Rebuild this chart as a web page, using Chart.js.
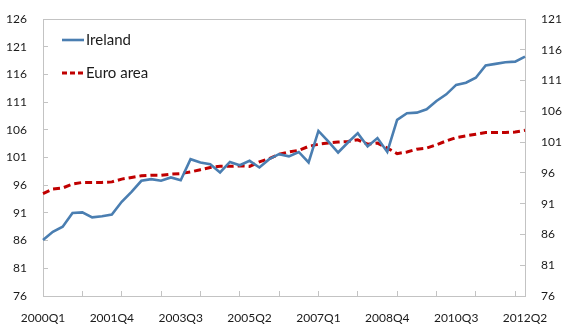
<!DOCTYPE html>
<html lang="en">
<head>
<meta charset="UTF-8">
<title>Ireland and Euro area</title>
<script src="https://cdn.jsdelivr.net/npm/chart.js"></script>
<style>
  body { margin: 0; background: #fff; }
  #chart { display: block; }
</style>
</head>
<body>
<canvas id="chart" width="563" height="326"></canvas>
<script>
// quarterly index, 2000Q1 - 2012Q2
const quarters = [
  '2000Q1','2000Q2','2000Q3','2000Q4','2001Q1','2001Q2','2001Q3','2001Q4',
  '2002Q1','2002Q2','2002Q3','2002Q4','2003Q1','2003Q2','2003Q3','2003Q4',
  '2004Q1','2004Q2','2004Q3','2004Q4','2005Q1','2005Q2','2005Q3','2005Q4',
  '2006Q1','2006Q2','2006Q3','2006Q4','2007Q1','2007Q2','2007Q3','2007Q4',
  '2008Q1','2008Q2','2008Q3','2008Q4','2009Q1','2009Q2','2009Q3','2009Q4',
  '2010Q1','2010Q2','2010Q3','2010Q4','2011Q1','2011Q2','2011Q3','2011Q4',
  '2012Q1','2012Q2'
];
const xTickLabels = ['2000Q1','2001Q4','2003Q3','2005Q2','2007Q1','2008Q4','2010Q3','2012Q2'];

const ireland = [
  86.1, 87.6, 88.5, 91.0, 91.1, 90.2, 90.4, 90.7, 93.0, 94.8,
  96.8, 97.1, 96.8, 97.4, 96.9, 100.7, 100.1, 99.8, 98.3, 100.2,
  99.6, 100.4, 99.2, 100.7, 101.6, 101.2, 102.0, 100.1, 105.8, 103.9,
  101.9, 103.7, 105.4, 103.0, 104.5, 102.0, 107.8, 109.0, 109.1, 109.7,
  111.2, 112.4, 114.1, 114.5, 115.4, 117.6, 117.9, 118.2, 118.3, 119.2
];
const euroArea = [
  94.5, 95.3, 95.5, 96.2, 96.5, 96.5, 96.5, 96.6, 97.1, 97.4,
  97.7, 97.8, 97.8, 98.0, 98.1, 98.4, 98.8, 99.2, 99.4, 99.4,
  99.5, 99.4, 100.2, 100.8, 101.6, 102.0, 102.3, 103.0, 103.4, 103.6,
  103.8, 103.9, 104.2, 103.4, 103.6, 102.7, 101.7, 102.0, 102.5, 102.7,
  103.3, 104.0, 104.6, 104.9, 105.2, 105.5, 105.5, 105.5, 105.6, 105.9
];

// axis ranges (left and right are labelled differently)
const leftAxis = { min: 76, max: 126, step: 5 };
const rightAxis = { min: 76, max: 121, step: 5 };

const AXIS = '#c3c3c3';
const TEXT = '#1a1a1a';
const FONT = { family: 'Lato', size: 12 };

// fixed axis sizes; drop the extra label padding chart.js reserves
function fixSize(w, h) {
  return (s) => {
    if (w !== null) s.width = w;
    if (h !== null) s.height = h;
    s.paddingTop = s.paddingBottom = s.paddingLeft = s.paddingRight = 0;
  };
}

// top edge of the plot box + legend drawn inside the plot, top left
const insideLegend = {
  id: 'insideLegend',
  afterDatasetsDraw(chart) {
    const { ctx, chartArea } = chart;
    ctx.save();
    ctx.strokeStyle = AXIS;
    ctx.lineWidth = 1;
    ctx.beginPath();
    ctx.moveTo(chartArea.left, Math.round(chartArea.top) + 0.5);
    ctx.lineTo(chartArea.right, Math.round(chartArea.top) + 0.5);
    ctx.stroke();

    const rows = [21, 54];
    ctx.font = '15px Lato';
    ctx.textBaseline = 'middle';
    ctx.fillStyle = TEXT;
    chart.data.datasets.forEach((ds, i) => {
      const y = chartArea.top + rows[i];
      const x = chartArea.left + 19;
      ctx.beginPath();
      ctx.strokeStyle = ds.borderColor;
      ctx.lineWidth = ds.borderWidth;
      ctx.setLineDash(ds.legendDash || []);
      ctx.moveTo(x, y);
      ctx.lineTo(x + 22, y);
      ctx.stroke();
      ctx.setLineDash([]);
      ctx.fillText(ds.label, x + 24, y);
    });
    ctx.restore();
  }
};

new Chart(document.getElementById('chart'), {
  type: 'line',
  data: {
    labels: quarters,
    datasets: [
      {
        label: 'Ireland',
        data: ireland,
        borderColor: '#4a7eb1',
        borderWidth: 2.6,
        pointRadius: 0,
        tension: 0,
        yAxisID: 'y'
      },
      {
        label: 'Euro area',
        data: euroArea,
        borderColor: '#c00000',
        borderWidth: 3,
        borderDash: [7, 4],
        legendDash: [5, 3],
        pointRadius: 0,
        tension: 0,
        yAxisID: 'y'
      }
    ]
  },
  options: {
    responsive: false,
    animation: false,
    devicePixelRatio: 1,
    layout: { padding: { top: 19, left: 0, right: 0, bottom: 0 } },
    plugins: {
      legend: { display: false },
      tooltip: { enabled: false }
    },
    scales: {
      x: {
        type: 'category',
        position: 'bottom',
        grid: {
          drawOnChartArea: false,
          drawTicks: true,
          tickLength: -5,
          color: (c) => (c.index % 4 === 0 ? AXIS : 'rgba(0,0,0,0)')
        },
        border: { color: AXIS },
        ticks: {
          autoSkip: false,
          maxRotation: 0,
          padding: 20,
          color: TEXT,
          font: FONT,
          callback(value) {
            const l = this.getLabelForValue(value);
            return xTickLabels.includes(l) ? l : '';
          }
        },
        afterFit: fixSize(null, 30)
      },
      y: {
        position: 'left',
        min: leftAxis.min,
        max: leftAxis.max,
        grid: { drawOnChartArea: false, tickLength: -5, color: AXIS },
        border: { color: AXIS },
        ticks: { stepSize: leftAxis.step, padding: 21, color: TEXT, font: FONT },
        afterFit: fixSize(43, null)
      },
      y2: {
        position: 'right',
        min: rightAxis.min,
        max: rightAxis.max,
        grid: { drawOnChartArea: false, tickLength: -5, color: AXIS },
        border: { color: AXIS },
        ticks: { stepSize: rightAxis.step, padding: 21, color: TEXT, font: FONT },
        afterFit: fixSize(38, null)
      }
    }
  },
  plugins: [insideLegend]
});
</script>
</body>
</html>
